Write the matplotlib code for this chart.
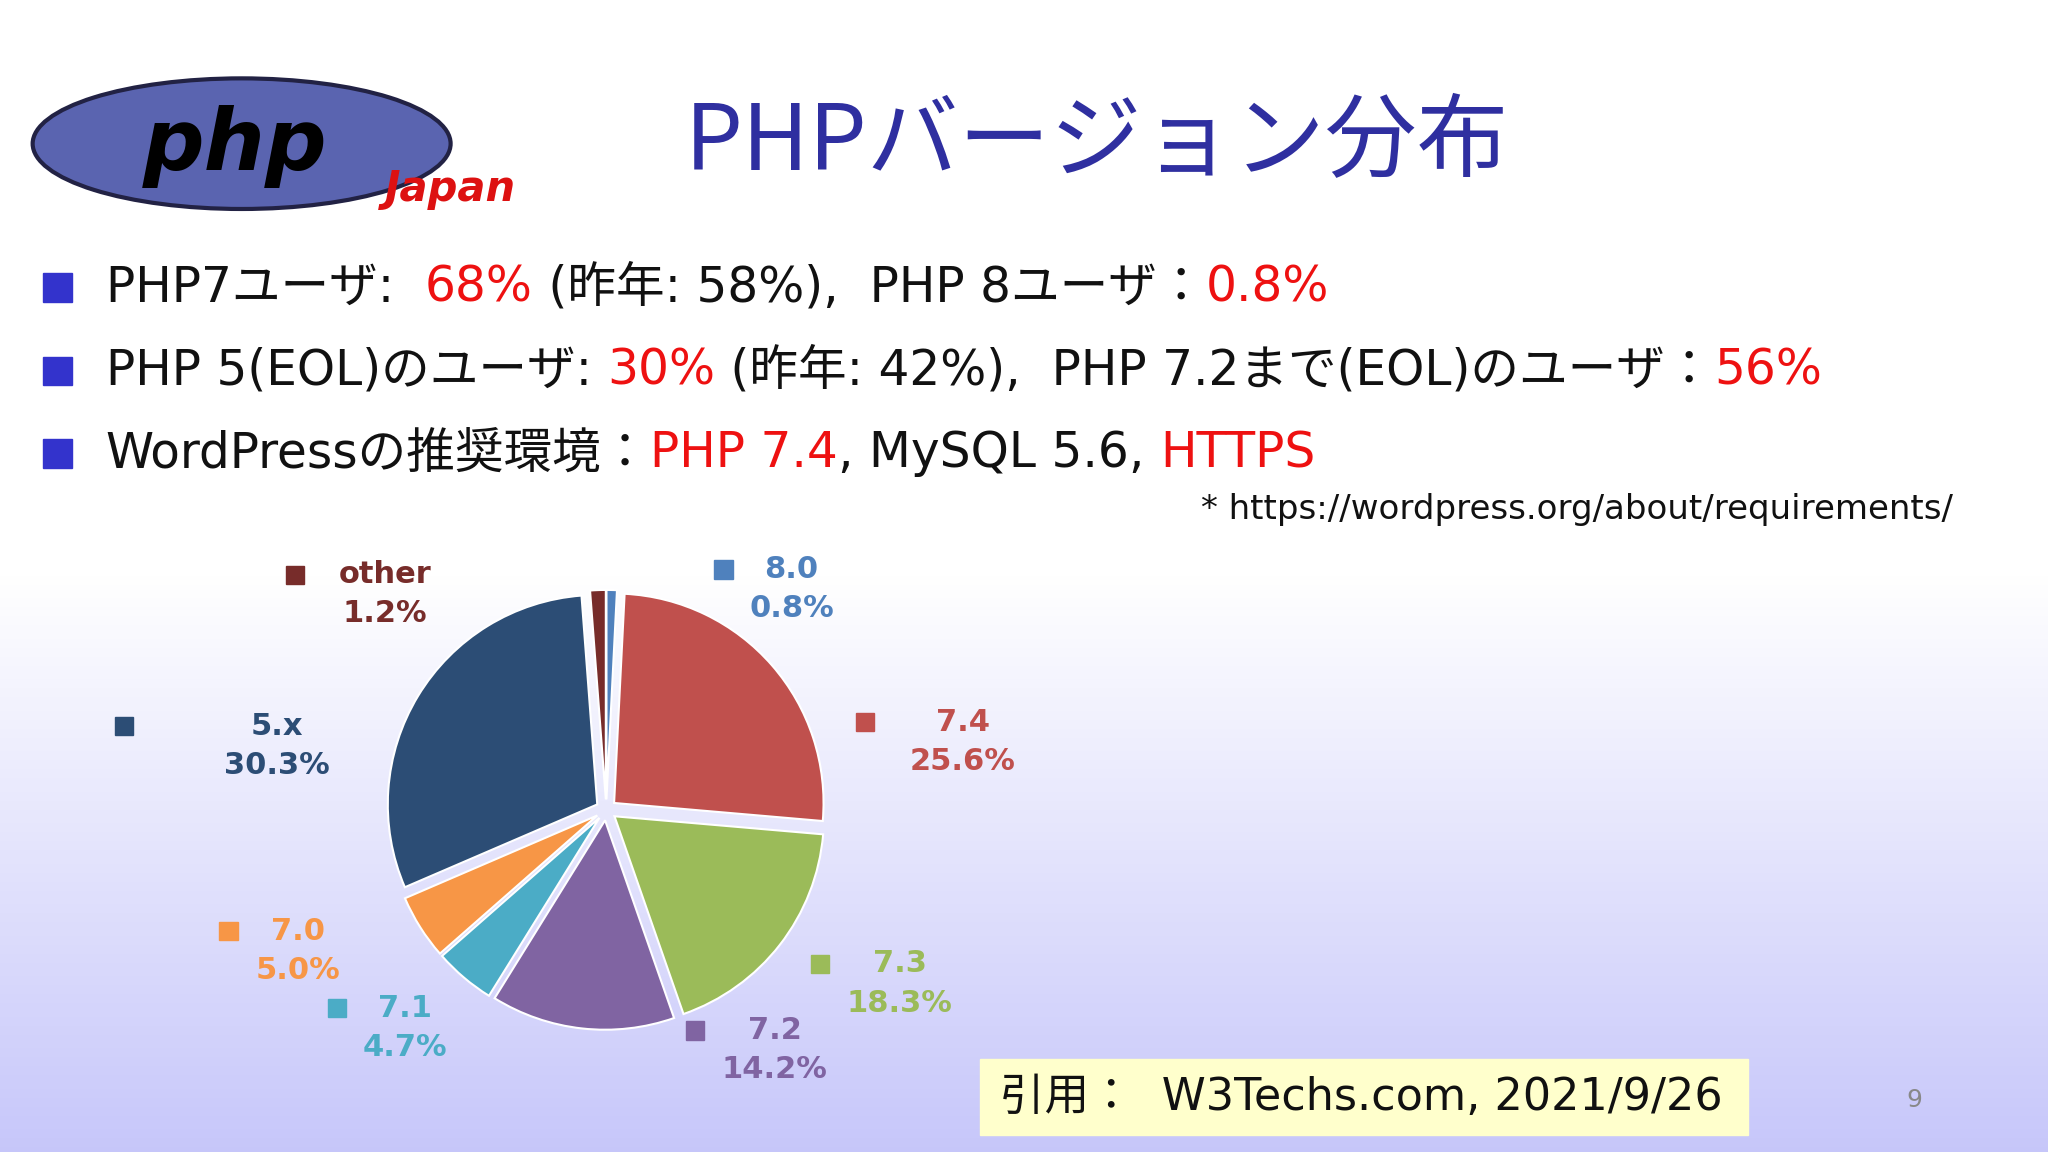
import matplotlib
matplotlib.use("Agg")
import matplotlib.pyplot as plt
import numpy as np
from matplotlib.patches import Ellipse, Rectangle

plt.rcParams['font.family'] = ['DejaVu Sans', 'Noto Sans CJK JP']

versions = ["8.0", "7.4", "7.3", "7.2", "7.1", "7.0", "5.x", "other"]
shares = [0.8, 25.6, 18.3, 14.2, 4.7, 5.0, 30.3, 1.2]
colors = ["#4f81bd", "#c0504d", "#9bbb59", "#8064a2", "#4bacc6", "#f79646", "#2c4d75", "#772c2a"]
# label anchor positions in 1568x882 pixel space (square marker x, text center x, text y top)
label_pos = {
    "8.0": (554, 606, 436), "7.4": (662, 737, 553), "7.3": (628, 689, 738),
    "7.2": (532, 593, 789), "7.1": (258, 310, 772), "7.0": (175, 228, 713),
    "5.x": (95, 212, 556), "other": (226, 295, 440),
}

W, H = 1568, 882
fig = plt.figure(figsize=(20.48, 11.52), dpi=100)
bg = fig.add_axes([0, 0, 1, 1])
bg.set_xlim(0, W); bg.set_ylim(H, 0); bg.axis('off')
grad = np.linspace(0, 1, 256)
grad = np.clip((grad - 0.5) / 0.5, 0, 1)[:, None]
top = np.array([1, 1, 1]); bot = np.array([0.78, 0.78, 0.98])
img = top + (bot - top) * grad[..., None]
img = np.repeat(img, 2, axis=1)
bg.imshow(img, extent=[0, W, H, 0], aspect='auto', zorder=0)

# logo
bg.add_patch(Ellipse((185, 110), 320, 100, facecolor="#5a64b0", edgecolor="#222244", lw=3, zorder=1))
bg.text(180, 112, "php", fontsize=62, fontweight='bold', style='italic', color='black',
        ha='center', va='center', zorder=2)
bg.text(345, 145, "Japan", fontsize=30, fontweight='bold', style='italic', color='#dd1111',
        ha='center', va='center', zorder=2)

bg.text(840, 110, "PHPバージョン分布", fontsize=66, color="#2f2fa0", ha='center', va='center',
        family=['Noto Sans CJK JP'])

blue = "#3333cc"; red = "#ee1111"; black = "#111111"
lines = [
    (220, [("PHP7ユーザ:  ", black), ("68%", red), (" (昨年: 58%),  PHP 8ユーザ：", black), ("0.8%", red)]),
    (284, [("PHP 5(EOL)のユーザ: ", black), ("30%", red), (" (昨年: 42%),  PHP 7.2まで(EOL)のユーザ：", black), ("56%", red)]),
    (347, [("WordPressの推奨環境：", black), ("PHP 7.4", red), (", MySQL 5.6, ", black), ("HTTPS", red)]),
]
fig.canvas.draw()
r = fig.canvas.get_renderer()
for y, parts in lines:
    bg.add_patch(Rectangle((33, y - 11), 22, 22, color=blue))
    x = 81
    for s, c in parts:
        t = bg.text(x, y, s, fontsize=35, color=c, ha='left', va='center')
        bb = t.get_window_extent(renderer=r)
        x += bb.width * W / fig.bbox.width
bg.text(1495, 390, "* https://wordpress.org/about/requirements/", fontsize=24.5, color=black, ha='right', va='center')

# pie
ax = fig.add_axes([0.296 - 0.1125, 0.297 - 0.2, 0.225, 0.4])
ax.pie(shares, colors=colors, startangle=90, counterclock=False,
       explode=[0.05] * len(shares), radius=1,
       wedgeprops=dict(edgecolor='white', linewidth=1.5))
ax.set_xlim(-1.1, 1.1); ax.set_ylim(-1.1, 1.1); ax.set_aspect('equal')

for v, s, c in zip(versions, shares, colors):
    mx, tx, ty = label_pos[v]
    bg.add_patch(Rectangle((mx - 7, ty - 7), 14, 14, color=c))
    bg.text(tx, ty + 15, f"{v}\n{s}%", fontsize=22, fontweight='bold', color=c,
            ha='center', va='center', linespacing=1.45)

bg.add_patch(Rectangle((750, 811), 588, 58, color="#ffffcc"))
bg.text(766, 840, "引用：  W3Techs.com, 2021/9/26", fontsize=32, color=black, ha='left', va='center')
bg.text(1466, 842, "9", fontsize=18, color="#888888", ha='center', va='center')

fig.savefig("out.png", dpi=100)
